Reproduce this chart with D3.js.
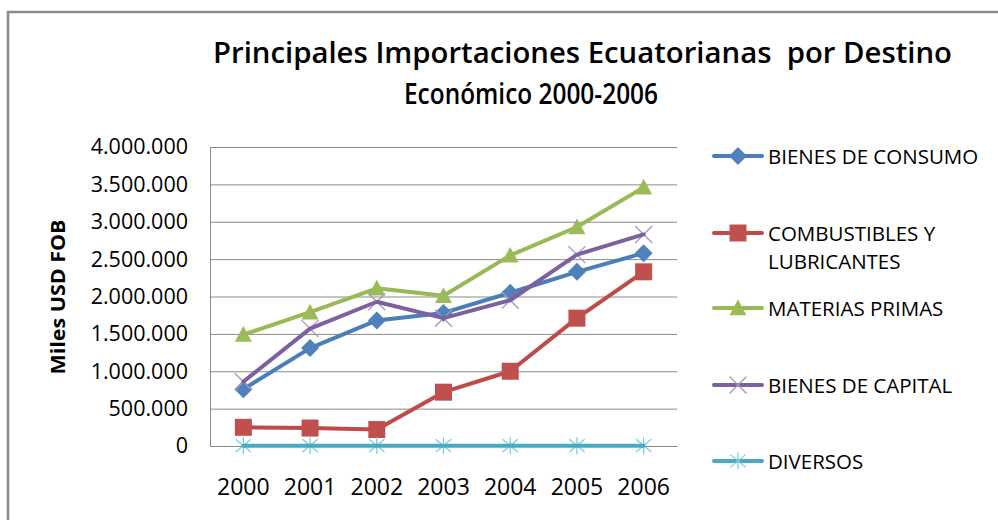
<!DOCTYPE html>
<html>
<head>
<meta charset="utf-8">
<script src="https://cdn.jsdelivr.net/npm/d3@7"></script>
<style>
  html, body { margin: 0; padding: 0; background: #fff; }
  svg { display: block; }
  text { font-family: "Open Sans", "Noto Sans", sans-serif; fill: #000; white-space: pre; }
</style>
</head>
<body>
<svg id="chart" width="998" height="520"></svg>
<script>
// ---- data ----
const years = ["2000", "2001", "2002", "2003", "2004", "2005", "2006"];
const seriesNames = ["BIENES DE CONSUMO", "COMBUSTIBLES Y LUBRICANTES", "MATERIAS PRIMAS", "BIENES DE CAPITAL", "DIVERSOS"];
const bienesConsumo = [760000, 1310000, 1680000, 1780000, 2050000, 2330000, 2580000];
const combustibles = [250000, 240000, 220000, 720000, 1000000, 1710000, 2330000];
const materiasPrimas = [1490000, 1790000, 2110000, 2010000, 2550000, 2930000, 3460000];
const bienesCapital = [860000, 1570000, 1930000, 1710000, 1950000, 2560000, 2830000];
const diversos = [4000, 4000, 4000, 4000, 4000, 4000, 4000];
const yTicks = [0, 500000, 1000000, 1500000, 2000000, 2500000, 3000000, 3500000, 4000000];
const titleLines = ["Principales Importaciones Ecuatorianas  por Destino", "Económico 2000-2006"];
const yTitle = "Miles USD FOB";

// ---- styling ----
const colors = ["#4A7EBB", "#BE4B48", "#98B954", "#7D60A0", "#46AAC5"];
const markerColors = ["#4F81BD", "#C0504D", "#9BBB59", "#A794C6", "#7FCCE0"];
const markers = ["diamond", "square", "triangle", "x", "asterisk"];
const seriesValues = [bienesConsumo, combustibles, materiasPrimas, bienesCapital, diversos];

const svg = d3.select("#chart");

// outer frame
svg.append("path")
  .attr("d", "M8,530 L8,12 L1010,12")
  .attr("fill", "none").attr("stroke", "#8c8c8c").attr("stroke-width", 2.5);

const plot = { left: 210, right: 677, top: 147, bottom: 446 };
const x = d3.scaleBand().domain(years).range([plot.left, plot.right]).padding(0);
const cx = d => x(d) + x.bandwidth() / 2;
const y = d3.scaleLinear().domain([0, 4000000]).range([plot.bottom, plot.top]);

// gridlines
const grid = svg.append("g")
  .attr("transform", `translate(${plot.left},0)`)
  .call(d3.axisLeft(y).tickValues(yTicks).tickSize(-(plot.right - plot.left)).tickFormat(""));
grid.select(".domain").remove();
grid.selectAll("line").attr("stroke", "#8a8a8a").attr("stroke-width", 1);

// y axis line + labels
const yAxis = svg.append("g")
  .attr("transform", `translate(${plot.left},0)`)
  .call(d3.axisLeft(y).tickValues(yTicks).tickSize(0).tickPadding(22)
    .tickFormat(d => d3.format(",")(d).replace(/,/g, ".")));
yAxis.select(".domain").attr("stroke", "#8a8a8a").attr("stroke-width", 1);
yAxis.selectAll("text")
  .style("font-family", "'Open Sans', sans-serif")
  .attr("font-size", 21.5).attr("fill", "#111");

// x axis labels
const xAxis = svg.append("g")
  .attr("transform", `translate(0,${plot.bottom})`)
  .call(d3.axisBottom(x).tickSize(0).tickPadding(0));
xAxis.select(".domain").attr("stroke", "#8a8a8a").attr("stroke-width", 1);
xAxis.selectAll("text")
  .style("font-family", "'Open Sans', sans-serif")
  .attr("font-size", 23).attr("fill", "#111")
  .attr("dy", null).attr("y", 49);

// symbol path generator
function markerPath(type, s) {
  switch (type) {
    case "diamond": return `M0,${-s}L${s},0L0,${s}L${-s},0Z`;
    case "square": return `M${-s},${-s}H${s}V${s}H${-s}Z`;
    case "triangle": return `M0,${-s}L${s},${s * 0.85}L${-s},${s * 0.85}Z`;
    case "x": return `M${-s},${-s}L${s},${s}M${-s},${s}L${s},${-s}`;
    case "asterisk": return `M0,${-s}V${s}M${-s * 0.9},${-s * 0.75}L${s * 0.9},${s * 0.75}M${-s * 0.9},${s * 0.75}L${s * 0.9},${-s * 0.75}`;
  }
}
const markerSize = [9, 8.5, 8.5, 8.5, 8.5];
const filled = m => m === "diamond" || m === "square" || m === "triangle";

function drawMarker(g, type, i) {
  const p = g.append("path").attr("d", markerPath(type, markerSize[i]));
  if (filled(type)) p.attr("fill", markerColors[i]).attr("stroke", "none");
  else p.attr("fill", "none").attr("stroke", markerColors[i]).attr("stroke-width", 1.3);
}

const line = d3.line().x(d => cx(d.year)).y(d => y(d.value));

seriesValues.forEach((vals, i) => {
  const data = years.map((yr, k) => ({ year: yr, value: vals[k] }));
  const g = svg.append("g");
  if (markers[i] === "x" || markers[i] === "asterisk") {
    data.forEach(d => drawMarker(g.append("g").attr("transform", `translate(${cx(d.year)},${y(d.value)})`), markers[i], i));
  }
  g.append("path").datum(data).attr("d", line)
    .attr("fill", "none").attr("stroke", colors[i]).attr("stroke-width", 4)
    .attr("stroke-linejoin", "round").attr("stroke-linecap", "round");
  if (filled(markers[i])) {
    data.forEach(d => drawMarker(g.append("g").attr("transform", `translate(${cx(d.year)},${y(d.value)})`), markers[i], i));
  }
});

// legend
const legendY = [156, 233, 308, 385, 461];
const legendLabels = [["BIENES DE CONSUMO"], ["COMBUSTIBLES Y", "LUBRICANTES"], ["MATERIAS PRIMAS"], ["BIENES DE CAPITAL"], ["DIVERSOS"]];
seriesNames.forEach((name, i) => {
  const g = svg.append("g").attr("transform", `translate(0,${legendY[i]})`);
  g.append("line").attr("x1", 714).attr("x2", 762).attr("y1", 0).attr("y2", 0)
    .attr("stroke", colors[i]).attr("stroke-width", 4).attr("stroke-linecap", "round");
  drawMarker(g.append("g").attr("transform", "translate(738,0)"), markers[i], i);
  legendLabels[i].forEach((t, k) => {
    g.append("text").attr("x", 768).attr("y", 8 + k * 28)
      .attr("font-size", 20.5).attr("fill", "#111").text(t);
  });
});

// titles
svg.append("text").attr("x", 582.5).attr("y", 63).attr("text-anchor", "middle")
  .attr("font-size", 29).attr("font-weight", 600)
  .attr("textLength", 739).attr("lengthAdjust", "spacingAndGlyphs")
  .text(titleLines[0]);
svg.append("text").attr("x", 531).attr("y", 104).attr("text-anchor", "middle")
  .attr("font-size", 29).attr("font-weight", 600)
  .attr("textLength", 254).attr("lengthAdjust", "spacingAndGlyphs")
  .text(titleLines[1]);

svg.append("text")
  .attr("transform", "translate(65,297) rotate(-90)")
  .attr("text-anchor", "middle")
  .attr("font-size", 20).attr("font-weight", "bold")
  .attr("textLength", 155).attr("lengthAdjust", "spacingAndGlyphs")
  .text(yTitle);
</script>
</body>
</html>
